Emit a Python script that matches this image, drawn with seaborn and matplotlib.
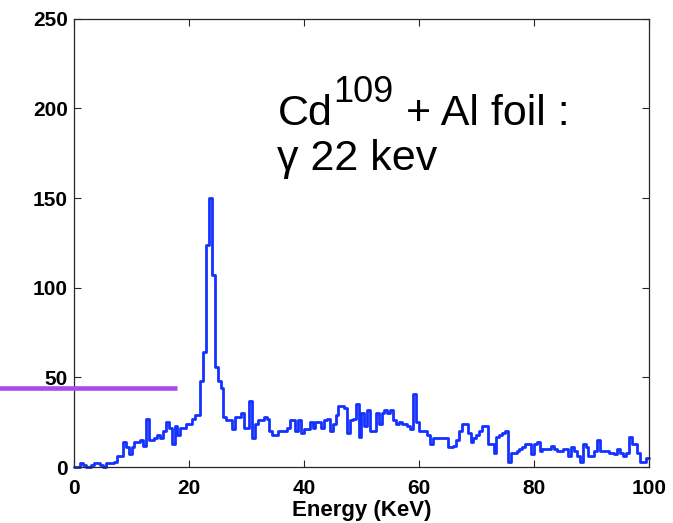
import numpy as np
import pandas as pd
import matplotlib
matplotlib.use('Agg')
import matplotlib.pyplot as plt
import seaborn as sns

# spectrum: counts per 0.5 keV channel, 0 - 100 keV
bin_width = 0.5
counts = [
    0, 0, 2, 1, 0, 0, 1, 2, 2, 1,
    0, 2, 2, 2, 3, 6, 6, 14, 11, 7,
    11, 14, 14, 15, 12, 27, 15, 15, 16, 18,
    16, 20, 25, 22, 13, 23, 18, 22, 22, 24,
    24, 27, 29, 29, 48, 64, 124, 150, 107, 56,
    48, 44, 28, 26, 26, 21, 28, 28, 30, 22,
    22, 37, 16, 24, 26, 26, 28, 27, 20, 18,
    18, 20, 20, 20, 22, 26, 26, 20, 26, 19,
    21, 21, 25, 22, 25, 25, 22, 26, 27, 20,
    24, 29, 34, 34, 33, 19, 26, 27, 35, 17,
    30, 23, 32, 20, 20, 30, 24, 30, 32, 30,
    32, 26, 24, 25, 24, 24, 23, 21, 41, 25,
    20, 20, 20, 18, 13, 16, 16, 16, 16, 16,
    11, 11, 12, 15, 20, 24, 24, 19, 14, 16,
    18, 20, 23, 23, 13, 13, 8, 17, 18, 19,
    20, 3, 8, 8, 9, 10, 11, 13, 13, 7,
    13, 14, 9, 10, 10, 10, 12, 10, 9, 9,
    10, 10, 6, 11, 9, 6, 3, 13, 11, 6,
    6, 9, 15, 9, 9, 9, 8, 8, 7, 10,
    8, 6, 8, 17, 13, 13, 8, 3, 3, 5,
]
x_ticks = [0, 20, 40, 60, 80, 100]
y_ticks = [0, 50, 100, 150, 200, 250]
x_label = 'Energy (KeV)'

note_iso = 'Cd'
note_mass = '109'
note_rest = ' + Al foil :'
note_line2 = '\u03b3 22 kev'
note_pos = (35.4, 191)      # data coords of first baseline
note_pos2 = (35.3, 165.5)

marker_level = 44            # purple bar on the left
marker_span = [-13.0, 17.9]

n_bins = len(counts)
df = pd.DataFrame({'energy': (np.arange(n_bins) + 0.5) * bin_width,
                   'counts': counts})

sns.set_style('ticks')
plt.rcParams['font.family'] = ['Liberation Sans', 'DejaVu Sans']
plt.rcParams['text.color'] = 'black'
plt.rcParams['axes.labelcolor'] = 'black'
plt.rcParams['xtick.color'] = 'black'
plt.rcParams['ytick.color'] = 'black'

fig = plt.figure(figsize=(6.73, 5.23), dpi=100)
ax = fig.add_axes([0.110, 0.107, 0.854, 0.857])

sns.histplot(data=df, x='energy', weights='counts', binwidth=bin_width,
             binrange=(0, n_bins * bin_width),
             element='step', fill=False, color='#1432ff', linewidth=2.0,
             clip_on=False, ax=ax)

ax.set_xlim(0, 100)
ax.set_ylim(0, 250)
ax.set_xticks(x_ticks)
ax.set_yticks(y_ticks)
ax.set_ylabel('')
ax.set_xlabel(x_label, fontsize=16, fontweight='bold', labelpad=1.5)

for s in ax.spines.values():
    s.set_visible(True)
    s.set_color('#262626')
    s.set_linewidth(0.9)
ax.tick_params(direction='in', length=5, width=0.8, color='#262626',
               top=True, right=True, labelsize=15)
ax.tick_params(axis='x', pad=8.5)
ax.tick_params(axis='y', pad=4.3)
for lbl in ax.get_xticklabels() + ax.get_yticklabels():
    lbl.set_fontweight('bold')

# annotation text
t1 = ax.text(note_pos[0], note_pos[1], note_iso, fontsize=31,
             va='baseline')
t2 = ax.annotate(note_mass, xy=(1, 0), xycoords=t1, xytext=(1, 24),
                 textcoords='offset pixels', fontsize=26, va='bottom')
ax.annotate(note_rest, xy=(1, 0), xycoords=(t2, t1), xytext=(0, 0),
            textcoords='offset pixels', fontsize=31, va='bottom')
ax.text(note_pos2[0], note_pos2[1], note_line2, fontsize=31,
        va='baseline')

ax.plot(marker_span, [marker_level, marker_level], color='#a64af4', lw=3.3,
        solid_capstyle='butt', clip_on=False, zorder=5)

fig.savefig('out.png', dpi=100)
